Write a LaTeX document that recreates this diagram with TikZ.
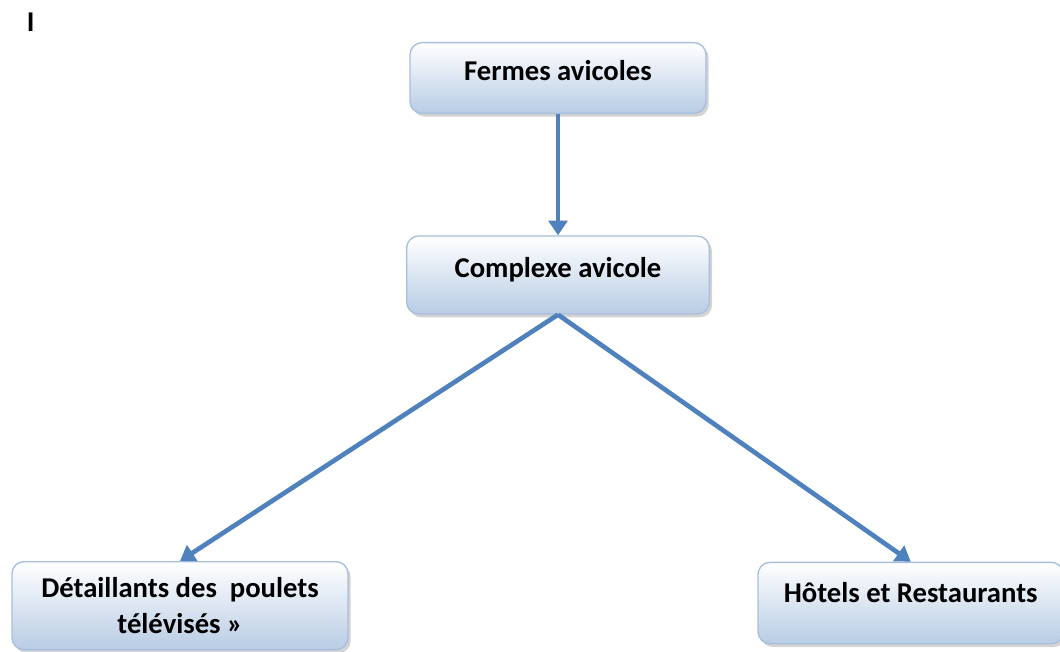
\documentclass[tikz,border=0pt]{standalone}
\usepackage{fontspec}
\setmainfont{Carlito}
\usepackage{tikz}
\usetikzlibrary{arrows.meta, positioning, shadows}
\definecolor{boxtop}{RGB}{255,255,255}
\definecolor{boxbot}{RGB}{184,204,228}
\definecolor{boxline}{RGB}{167,191,222}
\definecolor{flowblue}{RGB}{79,129,189}

\begin{document}
\begin{tikzpicture}[node distance=147.75pt,on grid,
    font=\fontsize{21.5}{27}\selectfont\bfseries]
    \tikzstyle{stage}=[shape=rectangle,rounded corners=9pt,draw=boxline,line width=1pt,
        top color=boxtop,bottom color=boxbot,align=center,
        drop shadow={shadow xshift=2pt,shadow yshift=-2.5pt,opacity=0.35}]
    \tikzstyle{flow}=[draw=flowblue,fill=flowblue,line width=3.5pt,-{Triangle[length=11pt,width=14pt]}]

    \useasboundingbox (0,0) rectangle (795pt,-489pt);

    \node at (23pt,-16.5pt) (mark) {I};

    \node[stage,minimum width=222pt,minimum height=53pt,text depth=12pt] at (418.5pt,-58.5pt) (fermes) {Fermes avicoles};
    \node[stage,minimum width=227pt,minimum height=58.5pt,text depth=12pt,below=147.75pt of fermes] (complexe) {Complexe avicole};
    \node[stage,minimum width=252pt,minimum height=66pt,below left=248pt and 283.5pt of complexe] (detail) {D\'etaillants des\ \ poulets\\t\'el\'evis\'es \guillemotright};
    \node[stage,minimum width=229pt,minimum height=61pt,text depth=16pt,below right=246pt and 264.5pt of complexe] (hotels) {H\^otels et Restaurants};

    \draw[flow] (fermes) -- (complexe);
    \draw[flow] (complexe.south) -- (detail.north);
    \draw[flow] (complexe.south) -- (hotels.north);

\end{tikzpicture}
\end{document}
